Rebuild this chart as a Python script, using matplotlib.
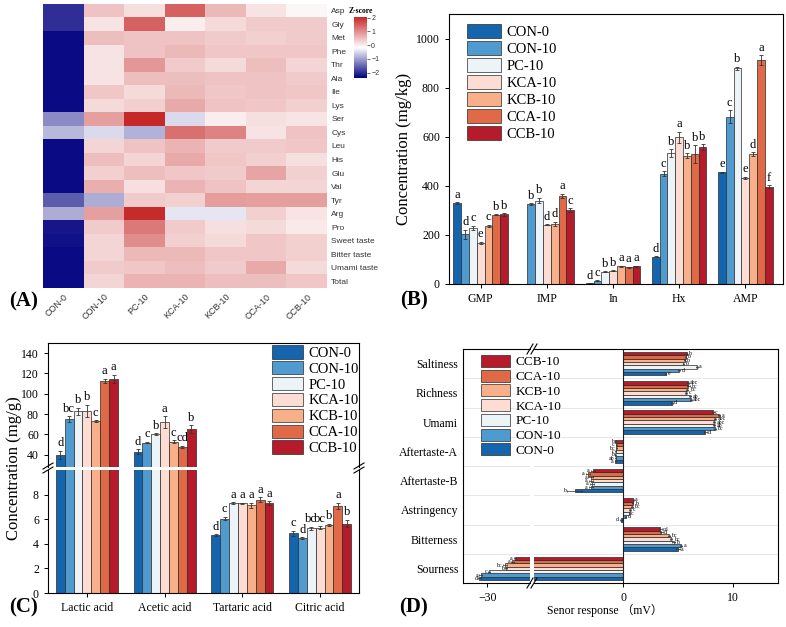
import numpy as np
import matplotlib
matplotlib.use("Agg")
import matplotlib.pyplot as plt
from matplotlib.colors import LinearSegmentedColormap
from matplotlib.patches import Patch
from matplotlib.lines import Line2D

plt.rcParams['font.family'] = ['Liberation Serif', 'DejaVu Serif']

W, H = 786, 627

samples = ['CON-0', 'CON-10', 'PC-10', 'KCA-10', 'KCB-10', 'CCA-10', 'CCB-10']
COL = ['#1565AE', '#4F9BD0', '#EDF4F8', '#FCDCD3', '#F8B08A', '#E06A48', '#B51B2A']

# ---- (A) amino acid heatmap, row z-scores ----
aa_rows = ['Asp', 'Gly', 'Met', 'Phe', 'Thr', 'Ala', 'Ile', 'Lys', 'Ser', 'Cys',
           'Leu', 'His', 'Glu', 'Val', 'Tyr', 'Arg', 'Pro',
           'Sweet taste', 'Bitter taste', 'Umami taste', 'Total']
aa_z = [
    [-2.0, 0.45, 0.15, 1.45, 0.55, 0.12, -0.1],
    [-2.0, 0.12, 1.45, 0.0, 0.2, 0.35, 0.35],
    [-2.3, 0.5, 0.45, 0.45, 0.35, 0.3, 0.35],
    [-2.3, 0.12, 0.45, 0.55, 0.4, 0.4, 0.4],
    [-2.3, 0.12, 0.9, 0.35, 0.2, 0.5, 0.25],
    [-2.3, 0.12, 0.5, 0.5, 0.45, 0.45, 0.35],
    [-2.3, 0.4, 0.2, 0.55, 0.4, 0.45, 0.4],
    [-2.3, 0.2, 0.3, 0.7, 0.45, 0.4, 0.3],
    [-1.2, 0.8, 2.1, -0.5, 0.0, 0.15, 0.1],
    [-0.8, -0.5, -0.85, 1.3, 1.1, 0.12, 0.45],
    [-2.3, 0.25, 0.45, 0.6, 0.35, 0.35, 0.4],
    [-2.3, 0.5, 0.25, 0.7, 0.4, 0.3, 0.15],
    [-2.3, 0.3, 0.5, 0.4, 0.35, 0.75, 0.3],
    [-2.3, 0.65, 0.15, 0.6, 0.45, 0.25, 0.25],
    [-1.6, -0.9, 0.35, 0.3, 0.85, 0.8, 0.8],
    [-0.9, 0.8, 2.0, -0.4, -0.4, 0.3, 0.1],
    [-2.2, 0.35, 1.2, 0.35, 0.15, 0.2, 0.05],
    [-2.25, 0.25, 1.0, 0.3, 0.2, 0.4, 0.3],
    [-2.3, 0.25, 0.55, 0.55, 0.4, 0.4, 0.3],
    [-2.3, 0.35, 0.4, 0.5, 0.35, 0.7, 0.2],
    [-2.3, 0.25, 0.6, 0.6, 0.5, 0.5, 0.4],
]

# ---- (B) nucleotides, mg/kg (rows = samples) ----
nuc_cats = ['GMP', 'IMP', 'In', 'Hx', 'AMP']
nuc_mean = [[330, 0, 3, 112, 455],
            [202, 325, 13, 450, 682],
            [228, 340, 50, 533, 878],
            [168, 242, 55, 598, 432],
            [238, 245, 72, 522, 528],
            [283, 360, 68, 530, 912],
            [284, 300, 72, 557, 397]]
nuc_err = [[3, 0, 1, 2, 2],
           [20, 5, 2, 10, 25],
           [10, 12, 2, 15, 8],
           [5, 2, 2, 22, 5],
           [4, 8, 3, 10, 8],
           [2, 8, 3, 35, 20],
           [5, 8, 3, 12, 5]]
nuc_sig = [['a', '', 'd', 'd', 'e'],
           ['d', 'b', 'c', 'c', 'c'],
           ['c', 'b', 'b', 'b', 'b'],
           ['e', 'd', 'b', 'a', 'e'],
           ['c', 'd', 'a', 'b', 'd'],
           ['b', 'a', 'a', 'b', 'a'],
           ['b', 'c', 'a', 'b', 'f']]

# ---- (C) organic acids, mg/g ----
acid_cats = ['Lactic acid', 'Acetic acid', 'Tartaric acid', 'Citric acid']
acid_mean = [[40, 43, 4.7, 4.85],
             [75, 52, 6.05, 4.45],
             [83, 60, 7.3, 5.25],
             [83, 72, 7.3, 5.3],
             [73, 53, 7.15, 5.55],
             [113, 48, 7.6, 7.1],
             [115, 65, 7.3, 5.65]]
acid_err = [[4, 2.5, 0.08, 0.2],
            [3, 0.6, 0.15, 0.08],
            [3.5, 1, 0.1, 0.15],
            [6, 6, 0.05, 0.12],
            [1, 1.5, 0.2, 0.1],
            [2, 1, 0.2, 0.25],
            [4, 4, 0.15, 0.3]]
acid_sig = [['d', 'd', 'd', 'c'],
            ['bc', 'c', 'c', 'd'],
            ['b', 'b', 'a', 'bc'],
            ['b', 'a', 'a', 'bc'],
            ['c', 'c', 'a', 'b'],
            ['a', 'cd', 'a', 'a'],
            ['a', 'b', 'a', 'b']]

# ---- (D) electronic tongue, mV (categories bottom -> top) ----
et_cats = ['Sourness', 'Bitterness', 'Astringency', 'Aftertaste-B',
           'Aftertaste-A', 'Umami', 'Richness', 'Saltiness']
et_mean = [[-30.7, 5.0, -0.15, -4.4, -0.7, 7.5, 4.45, 3.9],
           [-30.6, 5.3, 0.25, -2.9, -0.65, 8.35, 6.15, 5.1],
           [-29.8, 4.6, 0.55, -2.85, -0.7, 8.3, 6.1, 6.7],
           [-28.3, 4.4, 0.65, -2.9, -0.65, 8.3, 5.75, 5.5],
           [-28.4, 4.2, 0.8, -2.95, -0.6, 8.4, 5.85, 5.6],
           [-27.7, 3.5, 0.9, -3.2, -0.6, 8.75, 5.95, 5.7],
           [-27.5, 3.4, 0.95, -2.75, -0.7, 8.15, 5.9, 5.8]]
et_err = [[0.1, 0.15, 0.1, 0.7, 0.05, 0.1, 0.1, 0.05],
          [0.1, 0.1, 0.05, 0.2, 0.05, 0.1, 0.1, 0.1],
          [0.1, 0.1, 0.05, 0.2, 0.05, 0.1, 0.1, 0.1],
          [0.1, 0.1, 0.1, 0.2, 0.05, 0.1, 0.1, 0.05],
          [0.2, 0.1, 0.1, 0.2, 0.05, 0.1, 0.1, 0.05],
          [0.1, 0.1, 0.05, 0.2, 0.05, 0.1, 0.1, 0.05],
          [0.1, 0.15, 0.05, 0.2, 0.05, 0.1, 0.1, 0.05]]
et_sig = [['d', 'a', 'd', 'b', 'a', 'd', 'd', 'e'],
          ['a', 'a', 'd', 'a', 'ab', 'bc', 'abc', 'd'],
          ['c', 'b', 'c', 'a', 'b', 'ab', 'ab', 'a'],
          ['b', 'bc', 'c', 'a', 'c', 'abc', 'c', 'b'],
          ['bc', 'bc', 'bc', 'a', 'bc', 'abc', 'bc', 'b'],
          ['a', 'd', 'b', 'a', 'c', 'a', 'bc', 'b'],
          ['a', 'cd', 'a', 'a', 'b', 'c', 'abc', 'b']]


def rect(x0, y0, x1, y1):
    return [x0 / W, 1 - y1 / H, (x1 - x0) / W, (y1 - y0) / H]


EKW = dict(ecolor='#333333', elinewidth=0.6, capsize=1.6, capthick=0.6)
TICKFS = 8.5

fig = plt.figure(figsize=(W / 100, H / 100), dpi=100)

# ===== (A) =====
cmap = LinearSegmentedColormap.from_list('nwf', ['#000080', '#FFFFFF', '#C62828'])
axA = fig.add_axes(rect(43, 4, 327, 288))
im = axA.imshow(np.array(aa_z), cmap=cmap, vmin=-2.4, vmax=2.05,
                aspect='auto', interpolation='nearest')
axA.set_xticks(range(len(samples)))
axA.set_xticklabels(samples, rotation=45, ha='right', rotation_mode='anchor',
                    fontsize=6.5, family='Liberation Sans', color='#333333')
axA.set_yticks(range(len(aa_rows)))
axA.set_yticklabels(aa_rows, fontsize=6, family='Liberation Sans', color='#333333')
axA.yaxis.tick_right()
axA.tick_params(length=0, pad=3)
for s in axA.spines.values():
    s.set_visible(False)

cax = fig.add_axes(rect(354, 17, 367, 78))
cb = fig.colorbar(im, cax=cax, ticks=[-2, -1, 0, 1, 2])
cb.outline.set_visible(False)
cax.tick_params(labelsize=5, length=2, width=0.5, pad=1, colors='#333333')
for t in cax.get_yticklabels():
    t.set_family('Liberation Sans')
cax.set_title('Z-score', fontsize=5.5, fontweight='bold', pad=3)

# ===== (B) =====
axB = fig.add_axes(rect(449, 14, 783, 284))
nb = len(samples)
wb = 0.118
xb = np.arange(len(nuc_cats))
for j in range(nb):
    xs = xb + (j - 3) * wb
    axB.bar(xs, nuc_mean[j], wb, color=COL[j], edgecolor='#2a2a2a', lw=0.5,
            yerr=nuc_err[j], error_kw=EKW, label=samples[j])
    for k in range(len(nuc_cats)):
        if nuc_sig[j][k]:
            axB.text(xs[k], nuc_mean[j][k] + nuc_err[j][k] + 6, nuc_sig[j][k],
                     ha='center', va='bottom', fontsize=9)
axB.set_xlim(-0.48, 4.57)
axB.set_ylim(0, 1100)
axB.set_yticks(range(0, 1001, 200))
axB.set_xticks(xb)
axB.set_xticklabels(nuc_cats)
axB.tick_params(labelsize=TICKFS, direction='out', length=3, width=0.7)
axB.set_ylabel('Concentration (mg/kg)', fontsize=12, labelpad=3)
for s in axB.spines.values():
    s.set_linewidth(0.8)
hB = [Patch(facecolor=COL[j], edgecolor='#2a2a2a', lw=0.5, label=samples[j]) for j in range(nb)]
axB.legend(handles=hB, loc='upper left', bbox_to_anchor=(467 / W, 1 - 24 / H),
           bbox_transform=fig.transFigure, frameon=False, fontsize=10.5,
           handlelength=2.3, handleheight=1.15, labelspacing=0.12,
           handletextpad=0.4, borderpad=0, borderaxespad=0)

# ===== (C) broken y axis =====
axCt = fig.add_axes(rect(48, 343, 359, 467))
axCb = fig.add_axes(rect(48, 470, 359, 593))
xc = np.arange(len(acid_cats))
wc = 0.8 / nb
for ax in (axCt, axCb):
    for j in range(nb):
        xs = xc + (j - 3) * wc
        ax.bar(xs, acid_mean[j], wc, color=COL[j], edgecolor='#2a2a2a', lw=0.5,
               yerr=acid_err[j], error_kw=EKW)
axCt.set_ylim(28, 150)
axCb.set_ylim(0, 10)
axCt.set_yticks(range(40, 141, 20))
axCb.set_yticks(range(0, 9, 2))
for j in range(nb):
    xs = xc + (j - 3) * wc
    for k in range(len(acid_cats)):
        top = acid_mean[j][k] + acid_err[j][k]
        if top > 10:
            axCt.text(xs[k], top + 1.5, acid_sig[j][k], ha='center', va='bottom', fontsize=9)
        else:
            axCb.text(xs[k], top + 0.12, acid_sig[j][k], ha='center', va='bottom', fontsize=9)
for ax in (axCt, axCb):
    ax.set_xlim(-0.5, 3.5)
    ax.tick_params(labelsize=TICKFS, direction='out', length=3, width=0.7)
    for s in ax.spines.values():
        s.set_linewidth(0.8)
axCt.spines['bottom'].set_visible(False)
axCt.tick_params(axis='x', bottom=False, labelbottom=False)
axCb.spines['top'].set_visible(False)
axCb.set_xticks(xc)
axCb.set_xticklabels(acid_cats)
fig.text(14 / W, 1 - 468 / H, 'Concentration (mg/g)', rotation=90, fontsize=12,
         ha='center', va='center')
axCt.legend(handles=hB, loc='upper left', bbox_to_anchor=(272 / W, 1 - 345 / H),
            bbox_transform=fig.transFigure, frameon=False, fontsize=10.5,
            handlelength=2.1, handleheight=1.05, labelspacing=0.08,
            handletextpad=0.4, borderpad=0, borderaxespad=0)
for xp in (48, 359):
    for dy in (-2, 2):
        fig.add_artist(Line2D([(xp - 5) / W, (xp + 5) / W],
                              [1 - (468 + dy + 3) / H, 1 - (468 + dy - 3) / H],
                              color='k', lw=0.8))

# ===== (D) broken x axis =====
axDl = fig.add_axes(rect(463, 349, 530, 583))
axDr = fig.add_axes(rect(534, 349, 778, 583))
yd = np.arange(len(et_cats))
hd = 0.8 / nb
for ax in (axDl, axDr):
    for y in np.arange(0.5, len(et_cats) - 1, 1.0):
        ax.axhline(y, color='#e3e3e3', lw=0.6, zorder=0)
    for j in range(nb):
        ys = yd + (j - 3) * hd
        ax.barh(ys, et_mean[j], hd, color=COL[j], edgecolor='#2a2a2a', lw=0.5,
                xerr=et_err[j], error_kw=dict(ecolor='#333333', elinewidth=0.5,
                                              capsize=1.0, capthick=0.5))
    ax.set_ylim(-0.5, len(et_cats) - 0.5)
    ax.tick_params(labelsize=TICKFS, direction='out', length=3, width=0.7)
    for s in ax.spines.values():
        s.set_linewidth(0.8)
axDl.set_xlim(-32.2, -26.1)
axDr.set_xlim(-8.1, 14.1)
axDl.set_xticks([-30])
axDr.set_xticks([0, 10])
axDl.set_yticks(yd)
axDl.set_yticklabels(et_cats)
axDl.tick_params(axis='y', length=0)
axDr.tick_params(axis='y', left=False, labelleft=False)
axDl.spines['right'].set_visible(False)
axDr.spines['left'].set_visible(False)
axDr.axvline(0, color='#222222', lw=0.8)
for j in range(nb):
    ys = yd + (j - 3) * hd
    for k in range(len(et_cats)):
        v = et_mean[j][k]
        e = et_err[j][k]
        ax = axDl if v < -20 else axDr
        if v >= 0:
            ax.text(v + e + 0.1, ys[k], et_sig[j][k], ha='left', va='center', fontsize=4.2)
        else:
            ax.text(v - e - 0.1, ys[k], et_sig[j][k], ha='right', va='center', fontsize=4.2)
for yp in (349, 583):
    for dx in (-2, 2):
        fig.add_artist(Line2D([(532 + dx - 3) / W, (532 + dx + 3) / W],
                              [1 - (yp + 5) / H, 1 - (yp - 5) / H],
                              color='k', lw=0.8))
fig.text(605 / W, 1 - 610 / H, 'Senor response （mV）', fontsize=8.5,
         ha='center', va='center', family=['Liberation Serif', 'Noto Sans CJK SC'])
hD = [Patch(facecolor=COL[j], edgecolor='#2a2a2a', lw=0.5, label=samples[j])
      for j in range(nb - 1, -1, -1)]
fig.legend(handles=hD, loc='upper left', bbox_to_anchor=(481 / W, 1 - 355 / H),
           frameon=False, fontsize=9.5, handlelength=2.2, handleheight=1.0,
           labelspacing=0.1, handletextpad=0.4, borderpad=0, borderaxespad=0)

# panel letters
for lab, xp, yp in [('(A)', 24, 301), ('(B)', 414, 300), ('(C)', 24, 607), ('(D)', 414, 607)]:
    fig.text(xp / W, 1 - yp / H, lab, fontsize=15, fontweight='bold',
             ha='center', va='center')

fig.savefig('out.png', dpi=100)
